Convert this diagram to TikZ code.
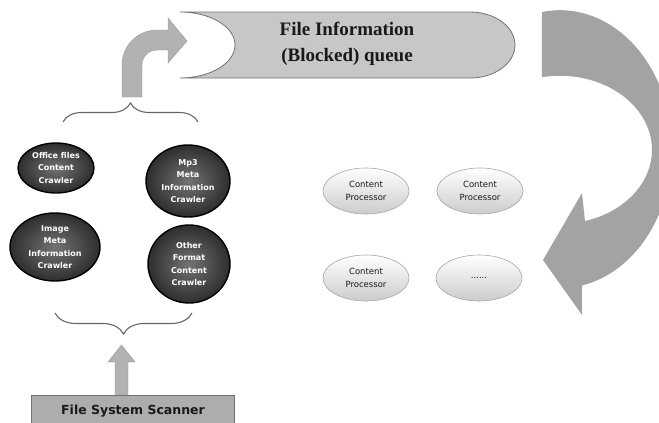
\documentclass[tikz,border=0pt]{standalone}
\usepackage{fontspec}
\setmainfont{Liberation Serif}
\newfontfamily\labelfont{DejaVu Sans}
\usetikzlibrary{shapes.geometric,decorations.pathreplacing}

\begin{document}
\begin{tikzpicture}[x=1pt,y=-1pt,
  crawler/.style={ellipse, draw=black, line width=1.4pt,
    inner color=black!55, outer color=black!82, text=white,
    font=\labelfont\bfseries\fontsize{8}{12.5}\selectfont,
    align=center, inner sep=0pt},
  proc/.style={ellipse, draw=black!35, line width=0.6pt,
    top color=white, bottom color=black!20, text=black!90,
    font=\labelfont\fontsize{8.5}{13}\selectfont,
    align=center, inner sep=0pt, minimum width=86pt, minimum height=46pt},
  curlybrace/.style={decorate, draw=black!60, line width=1.1pt},
  blockarrow/.style={fill=black!30, draw=black!40, line width=0.4pt},
]
\useasboundingbox (0,0) rectangle (659,423);
\clip (0,0) rectangle (659,423);

% queue band with notched left end and rounded right end
\path[fill=black!22, draw=black!55, line width=0.8pt]
  (180,12) -- (470,12)
  arc[start angle=-90, end angle=90, x radius=45, y radius=33]
  -- (180,78)
  arc[start angle=90, end angle=-90, x radius=55, y radius=33] -- cycle;
\node[font=\bfseries\fontsize{19}{26}\selectfont, align=center, text=black!90]
  (queue) at (347,44) {File Information\\(Blocked) queue};

% bent arrow feeding the queue
\path[blockarrow]
  (122,97) -- (122,65)
  arc[start angle=180, end angle=270, radius=35]
  -- (168,30) -- (168,18) -- (187,41) -- (168,63) -- (168,50) -- (157,50)
  arc[start angle=270, end angle=180, radius=15]
  -- (142,97) -- cycle;

% large curved arrow from the queue to the processors
\path[fill=black!36]
  (542,12)
  arc[start angle=-99.25, end angle=78.7, x radius=112, y radius=139]
  -- (582,315) -- (543,260) -- (582,193) -- (585,221)
  arc[start angle=74.2, end angle=-101.3, x radius=92, y radius=74] -- cycle;

% crawlers
\node[crawler, minimum width=76pt, minimum height=50pt] (office) at (56,168)
  {Office files\\Content\\Crawler};
\node[crawler, minimum width=84pt, minimum height=72pt] (mp3) at (188,181)
  {Mp3\\Meta\\Information\\Crawler};
\node[crawler, minimum width=90pt, minimum height=68pt] (image) at (55,247)
  {Image\\Meta\\Information\\Crawler};
\node[crawler, minimum width=82pt, minimum height=78pt] (other) at (189,264)
  {Other\\Format\\Content\\Crawler};

% braces grouping the crawlers
\draw[curlybrace, decoration={brace, amplitude=19pt}] (63,122) -- (198,122);
\draw[curlybrace, decoration={brace, amplitude=21pt}] (192,313) -- (55,313);

% content processors
\node[proc] (p1) at (366,191) {Content\\Processor};
\node[proc] (p2) at (480,191) {Content\\Processor};
\node[proc] (p3) at (366,278) {Content\\Processor};
\node[proc] (p4) at (479,278) {......};

% scanner and its upward arrow
\path[blockarrow]
  (115,395) -- (115,362) -- (108,362) -- (121.5,345) -- (135,362)
  -- (128,362) -- (128,395) -- cycle;
\node[rectangle, fill=black!32, draw=black!55, line width=0.8pt,
  minimum width=203pt, minimum height=30pt, inner sep=0pt,
  font=\labelfont\bfseries\fontsize{12.5}{14}\selectfont, text=black!90,
  text depth=0pt] (scanner) at (133,410) {File System Scanner};
\end{tikzpicture}
\end{document}
